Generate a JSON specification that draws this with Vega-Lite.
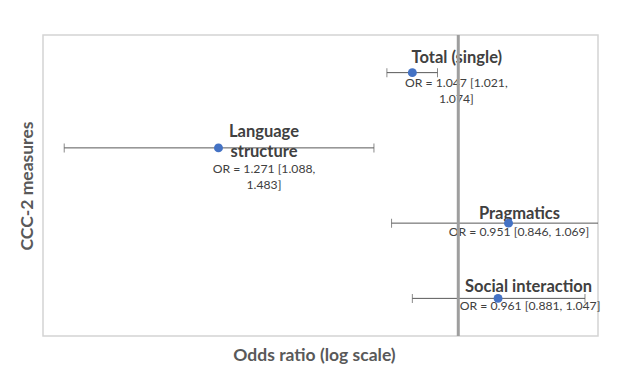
{
  "$schema": "https://vega.github.io/schema/vega-lite/v6.json",
  "width": 555,
  "height": 301,
  "autosize": {"type": "none"},
  "padding": {"left": 43, "top": 35, "right": 22, "bottom": 43},
  "background": "white",
  "config": {
    "view": {"stroke": "#d4d4d4", "strokeWidth": 1.5},
    "font": "Lato"
  },
  "data": {
    "values": [
      {"measure": "Total (single)", "name": "Total (single)", "or": 1.047, "lo": 1.021, "hi": 1.074, "label": "OR = 1.047 [1.021,\n1.074]"},
      {"measure": "Language structure", "name": "Language\nstructure", "or": 1.271, "lo": 1.088, "hi": 1.483, "label": "OR = 1.271 [1.088,\n1.483]"},
      {"measure": "Pragmatics", "name": "Pragmatics", "or": 0.951, "lo": 0.846, "hi": 1.069, "label": "OR = 0.951 [0.846, 1.069]"},
      {"measure": "Social interaction", "name": "Social interaction", "or": 0.961, "lo": 0.881, "hi": 1.047, "label": "OR = 0.961 [0.881, 1.047]"}
    ]
  },
  "encoding": {
    "y": {
      "field": "measure", "type": "nominal", "sort": null,
      "scale": {"type": "point", "padding": 0.5},
      "axis": {"title": "CCC-2 measures", "labels": false, "ticks": false, "domain": false, "grid": false,
               "titleFont": "Lato", "titleFontSize": 17.5, "titleFontWeight": "bold", "titleColor": "#595959", "titlePadding": 7}
    }
  },
  "layer": [
    {
      "mark": {"type": "rule", "color": "#595959", "strokeWidth": 1, "clip": true},
      "encoding": {
        "x": {"field": "lo", "type": "quantitative",
              "scale": {"type": "log", "domain": [0.8696, 1.5148], "reverse": true, "nice": false, "zero": false},
              "axis": {"title": "Odds ratio (log scale)", "labels": false, "ticks": false, "domain": false, "grid": false,
                       "titleFont": "Lato", "titleFontSize": 17.5, "titleFontWeight": "bold", "titleColor": "#595959", "titlePadding": 10, "titleX": 271}},
        "x2": {"field": "hi"}
      }
    },
    {
      "mark": {"type": "tick", "color": "#595959", "thickness": 1, "size": 9, "clip": true},
      "encoding": {"x": {"field": "lo", "type": "quantitative"}}
    },
    {
      "mark": {"type": "tick", "color": "#595959", "thickness": 1, "size": 9, "clip": true},
      "encoding": {"x": {"field": "hi", "type": "quantitative"}}
    },
    {
      "transform": [{"filter": "datum.measure === 'Total (single)'"}],
      "layer": [
        {"mark": {"type": "text", "font": "Lato", "fontSize": 16.5, "fontWeight": "bold", "color": "#404040", "align": "center", "baseline": "middle", "lineBreak": "\n", "dx": 44.5, "dy": -14.7},
         "encoding": {"x": {"field": "or", "type": "quantitative"}, "text": {"field": "name"}}},
        {"mark": {"type": "text", "font": "Lato", "fontSize": 12.2, "color": "#404040", "align": "center", "baseline": "middle", "lineBreak": "\n", "lineHeight": 15.3, "dx": 44, "dy": 10.7},
         "encoding": {"x": {"field": "or", "type": "quantitative"}, "text": {"field": "label"}}}
      ]
    },
    {
      "transform": [{"filter": "datum.measure === 'Language structure'"}],
      "layer": [
        {"mark": {"type": "text", "font": "Lato", "fontSize": 16.5, "fontWeight": "bold", "color": "#404040", "align": "center", "baseline": "middle", "lineBreak": "\n", "lineHeight": 19.6, "dx": 45.5, "dy": -15.8},
         "encoding": {"x": {"field": "or", "type": "quantitative"}, "text": {"field": "name"}}},
        {"mark": {"type": "text", "font": "Lato", "fontSize": 12.2, "color": "#404040", "align": "center", "baseline": "middle", "lineBreak": "\n", "lineHeight": 15.6, "dx": 45.5, "dy": 21.2},
         "encoding": {"x": {"field": "or", "type": "quantitative"}, "text": {"field": "label"}}}
      ]
    },
    {
      "transform": [{"filter": "datum.measure === 'Pragmatics'"}],
      "layer": [
        {"mark": {"type": "text", "font": "Lato", "fontSize": 16.5, "fontWeight": "bold", "color": "#404040", "align": "center", "baseline": "middle", "dx": 11, "dy": -9.3},
         "encoding": {"x": {"field": "or", "type": "quantitative"}, "text": {"field": "name"}}},
        {"mark": {"type": "text", "font": "Lato", "fontSize": 12.2, "color": "#404040", "align": "center", "baseline": "middle", "dx": 10.5, "dy": 9},
         "encoding": {"x": {"field": "or", "type": "quantitative"}, "text": {"field": "label"}}}
      ]
    },
    {
      "transform": [{"filter": "datum.measure === 'Social interaction'"}],
      "layer": [
        {"mark": {"type": "text", "font": "Lato", "fontSize": 16.5, "fontWeight": "bold", "color": "#404040", "align": "center", "baseline": "middle", "dx": 30.5, "dy": -11},
         "encoding": {"x": {"field": "or", "type": "quantitative"}, "text": {"field": "name"}}},
        {"mark": {"type": "text", "font": "Lato", "fontSize": 12.2, "color": "#404040", "align": "center", "baseline": "middle", "dx": 32, "dy": 7.7},
         "encoding": {"x": {"field": "or", "type": "quantitative"}, "text": {"field": "label"}}}
      ]
    },
    {
      "data": {"values": [{"ref": 1}]},
      "mark": {"type": "rule", "color": "#9e9e9e", "strokeWidth": 3},
      "encoding": {"x": {"field": "ref", "type": "quantitative"}, "y": null}
    },
    {
      "mark": {"type": "circle", "color": "#4472c4", "size": 80, "opacity": 1},
      "encoding": {"x": {"field": "or", "type": "quantitative"}}
    }
  ]
}
